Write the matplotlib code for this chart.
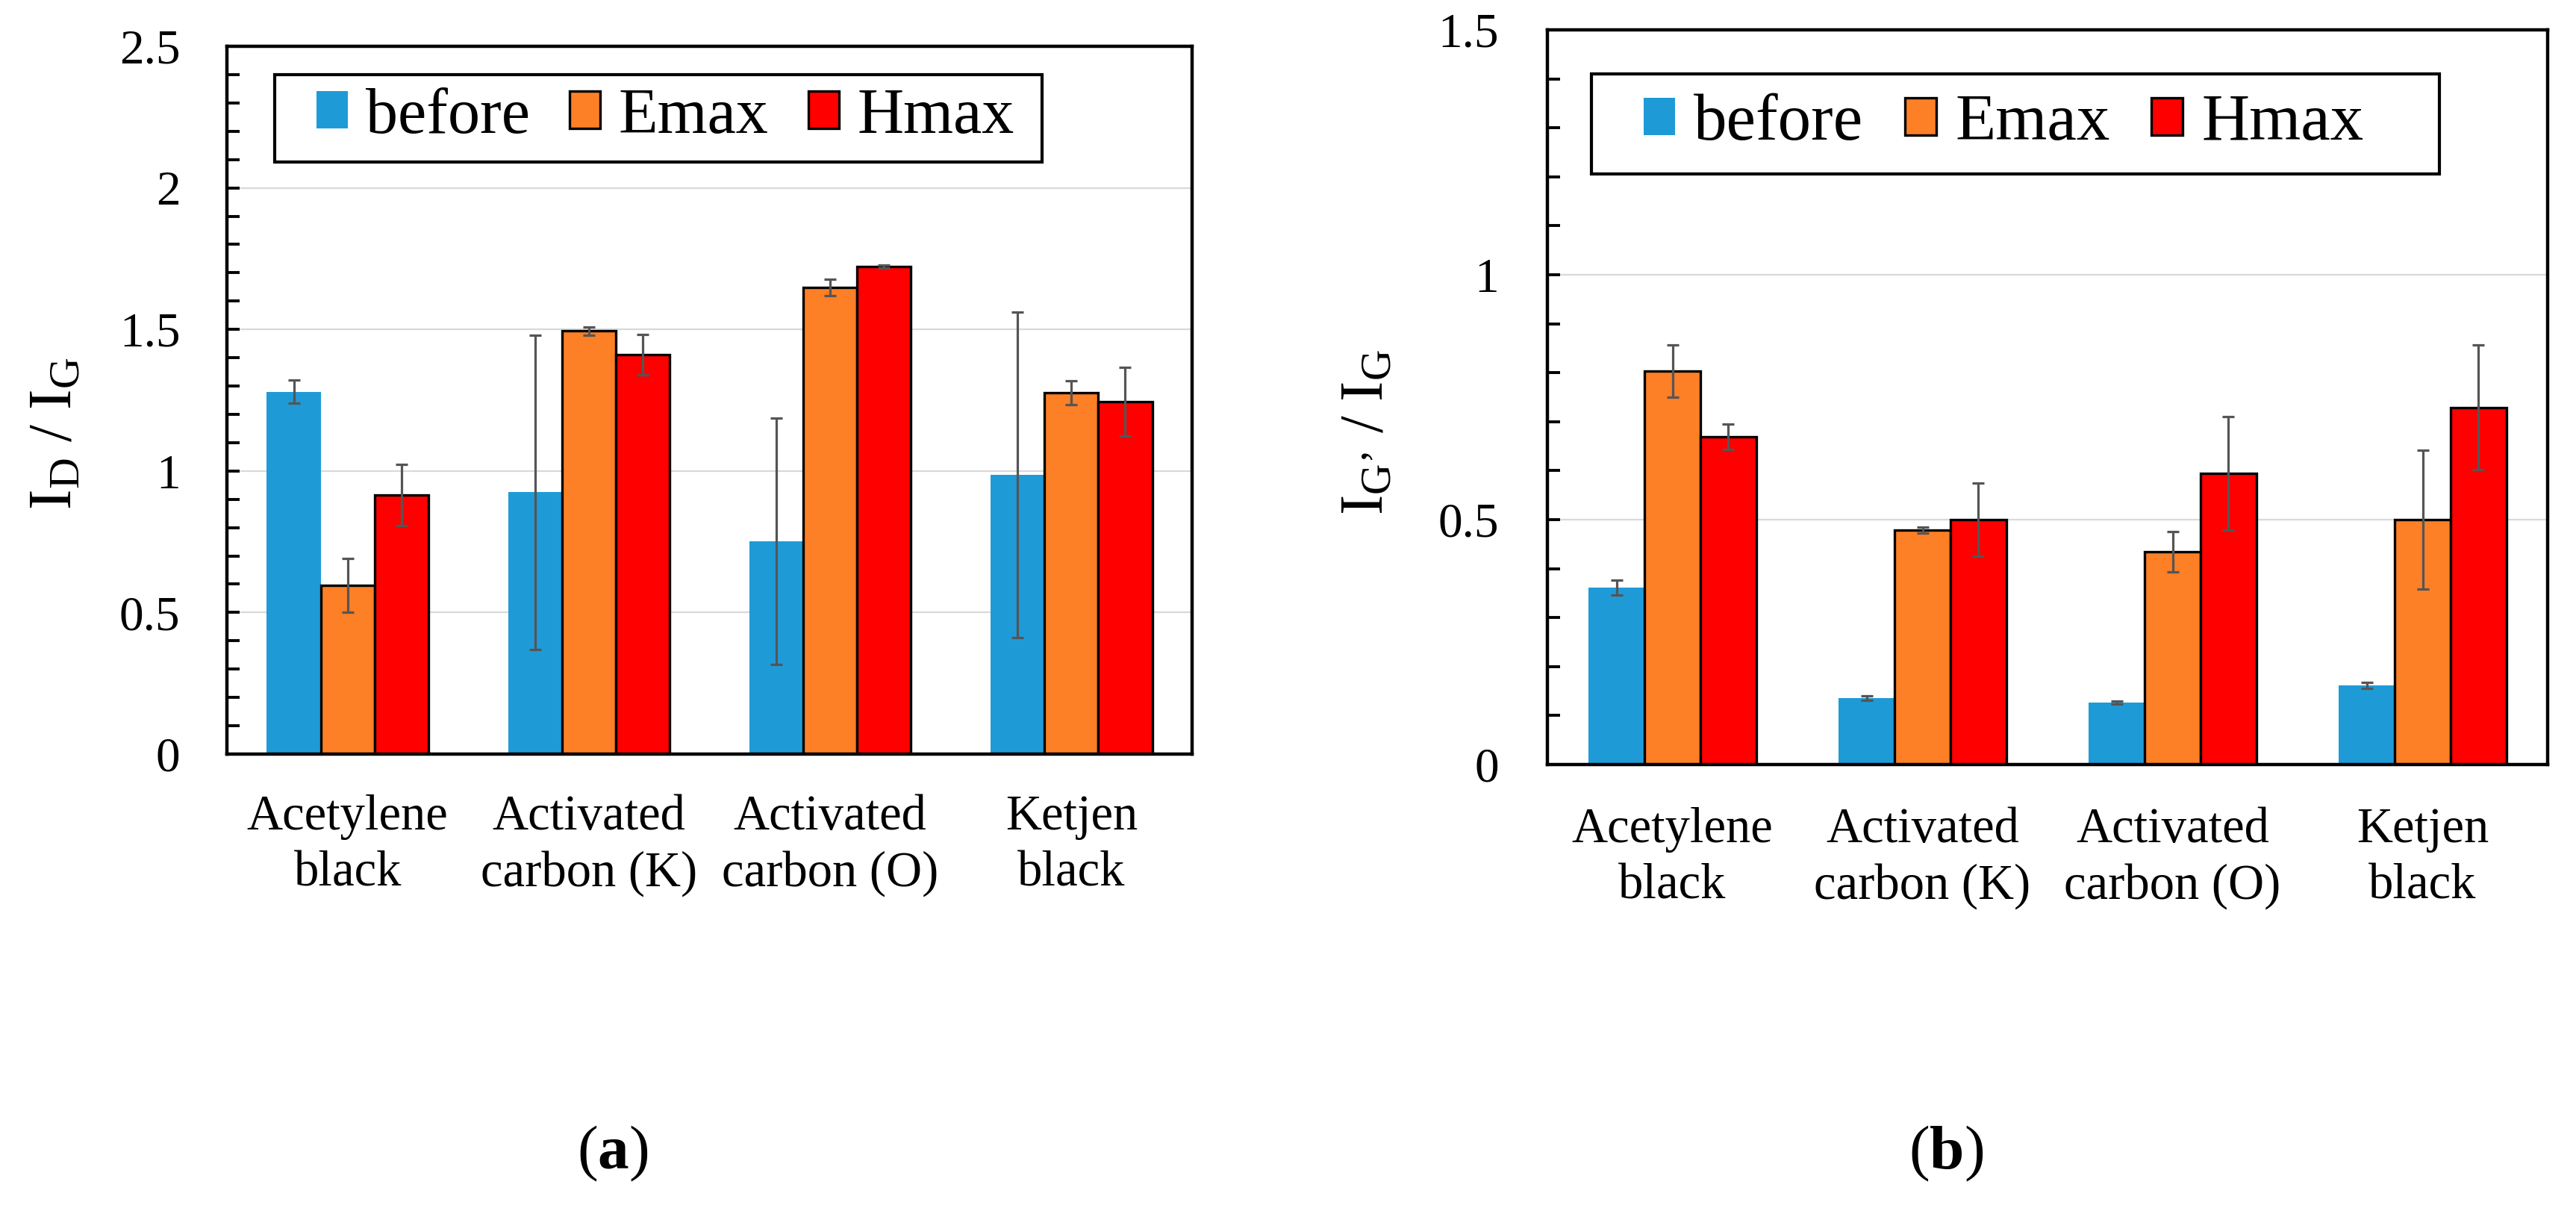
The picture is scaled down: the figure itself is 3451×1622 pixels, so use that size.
import matplotlib
matplotlib.use("Agg")
import matplotlib.pyplot as plt
import numpy as np
from matplotlib.patches import Rectangle

plt.rcParams['font.family'] = ['Liberation Serif', 'DejaVu Serif']
plt.rcParams['mathtext.fontset'] = 'custom'
plt.rcParams['mathtext.rm'] = 'Liberation Serif'
plt.rcParams['mathtext.it'] = 'Liberation Serif:italic'
plt.rcParams['mathtext.bf'] = 'Liberation Serif:bold'

categories = ["Acetylene\nblack", "Activated\ncarbon (K)", "Activated\ncarbon (O)", "Ketjen\nblack"]
series = ["before", "Emax", "Hmax"]

# (a) I_D / I_G
a_before = [1.28, 0.925, 0.751, 0.986]
a_before_err = [0.04, 0.555, 0.435, 0.575]
a_emax = [0.597, 1.494, 1.648, 1.276]
a_emax_err = [0.095, 0.015, 0.03, 0.043]
a_hmax = [0.915, 1.411, 1.722, 1.245]
a_hmax_err = [0.107, 0.071, 0.005, 0.122]

# (b) I_G' / I_G
b_before = [0.361, 0.136, 0.127, 0.161]
b_before_err = [0.015, 0.005, 0.003, 0.006]
b_emax = [0.803, 0.479, 0.434, 0.500]
b_emax_err = [0.053, 0.006, 0.041, 0.142]
b_hmax = [0.669, 0.500, 0.594, 0.729]
b_hmax_err = [0.026, 0.075, 0.116, 0.127]

colors = ["#1E9BD7", "#FD7F26", "#FF0000"]
edges = ["none", "black", "black"]

W, H = 3451, 1622
fig = plt.figure(figsize=(W / 100, H / 100), dpi=100)


def make_axes(px_left, px_right, px_top, px_bottom):
    return fig.add_axes([px_left / W, 1 - px_bottom / H,
                         (px_right - px_left) / W, (px_bottom - px_top) / H])


def draw(ax, data, errs, ymax, ytick_pad, xtick_pad, leg_box, leg_anchor, leg_fs):
    x = np.arange(len(categories))
    bw = 0.223
    handles = []
    for i, (vals, e) in enumerate(zip(data, errs)):
        xs = x + (i - 1) * bw
        b = ax.bar(xs, vals, width=bw, color=colors[i], edgecolor=edges[i],
                   linewidth=2.4 if edges[i] != "none" else 0, zorder=2, label=series[i])
        handles.append(b)
        ax.errorbar(xs, vals, yerr=e, fmt='none', ecolor='#555555', elinewidth=2.3,
                    capsize=6, capthick=2.3, zorder=3)
    ax.set_xlim(-0.5, len(categories) - 0.5)
    ax.set_ylim(0, ymax)
    major = np.arange(0, ymax + 0.001, 0.5)
    ax.set_yticks(major)
    ax.set_yticklabels([f"{v:g}" for v in major])
    ax.set_yticks(np.arange(0, ymax + 0.001, 0.1), minor=True)
    ax.tick_params(axis='y', which='both', direction='in', length=12, width=2.8,
                   labelsize=47, pad=ytick_pad)
    ax.tick_params(axis='x', which='both', length=0, labelsize=48, pad=xtick_pad)
    ax.set_xticks(x)
    ax.set_xticklabels(categories)
    for lbl in ax.get_xticklabels():
        lbl.set_linespacing(1.3)
    ax.yaxis.grid(True, which='major', color='#d9d9d9', linewidth=1.6, zorder=0)
    ax.set_axisbelow(True)
    for s in ax.spines.values():
        s.set_linewidth(3.2)
        s.set_zorder(4)
    # legend frame
    x0, y0, x1, y1 = leg_box
    ax.add_patch(Rectangle((x0, y0), x1 - x0, y1 - y0, transform=ax.transAxes,
                           fill=True, facecolor='white', edgecolor='black',
                           linewidth=3, zorder=5))
    leg = ax.legend(handles=handles, loc='center left', bbox_to_anchor=leg_anchor,
                    ncol=3, frameon=False, fontsize=leg_fs, handlelength=0.48,
                    handleheight=0.5, handletextpad=0.28, columnspacing=0.62,
                    borderpad=0, borderaxespad=0)
    leg.set_zorder(6)
    return ax


ax1 = make_axes(304, 1597, 62, 1010)
draw(ax1, [a_before, a_emax, a_hmax], [a_before_err, a_emax_err, a_hmax_err], 2.5,
     45, 39, (0.0495, 0.8365, 0.8445, 0.960), (0.093, 0.900), 62)

ax2 = make_axes(2073, 3413, 40, 1024)
draw(ax2, [b_before, b_emax, b_hmax], [b_before_err, b_emax_err, b_hmax_err], 1.5,
     47, 41, (0.044, 0.804, 0.892, 0.940), (0.096, 0.872), 64)

# y-axis labels, sized so their extent matches the reference
fig.canvas.draw()
renderer = fig.canvas.get_renderer()
ylabels = [
    (r"$\mathrm{I_D\ /\ I_G}$", 75, 478, 683),
    ("$\\mathrm{I_{G\u2019}\\ /\\ I_G}$", 1832, 468, 690),
]
for txt, xc, ytop, ybot in ylabels:
    t = fig.text(xc / W, 1 - (ytop + ybot) / 2 / H, txt, rotation=90,
                 ha='center', va='center', fontsize=60)
    bb = t.get_window_extent(renderer)
    t.set_fontsize(60 * (ybot - ytop) / bb.height)

fig.text(821 / W, 1 - 1545 / H, r"($\mathbf{a}$)", ha='center', va='center', fontsize=60)
fig.text(2607 / W, 1 - 1545 / H, r"($\mathbf{b}$)", ha='center', va='center', fontsize=60)

fig.savefig("out.png", dpi=100, facecolor='white')
